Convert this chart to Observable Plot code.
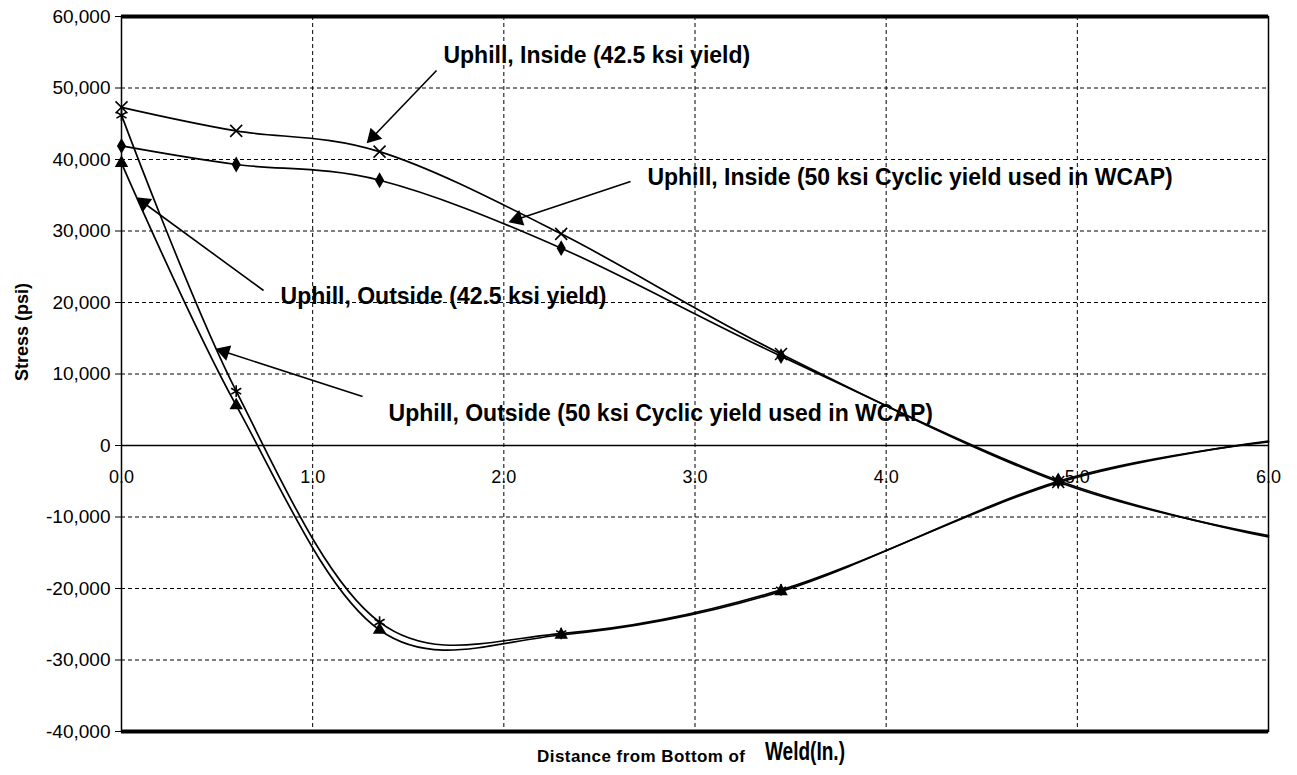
<!DOCTYPE html>
<html><head><meta charset="utf-8">
<script src="https://cdn.jsdelivr.net/npm/d3@7"></script>
<script src="https://cdn.jsdelivr.net/npm/@observablehq/plot@0.6"></script>
<style>body{margin:0;background:#fff} svg{display:block}</style>
</head><body><div id="chart"></div>
<script>
// ---- data ----
const xValues = [0, 0.6, 1.35, 2.3, 3.45, 4.9, 6.0];
const insideYield425  = [47300, 44000, 41100, 29600, 12800, -5100, -12600];
const insideCyclic50  = [41900, 39300, 37100, 27600, 12500, -4900, -12800];
const outsideYield425 = [39500, 5600, -25800, -26500, -20400, -5000, 500];
const outsideCyclic50 = [46200, 7600, -24700, -26300, -20200, -5200, 600];

const seriesNames = [
  "Uphill, Inside (42.5 ksi yield)",
  "Uphill, Inside (50 ksi Cyclic yield used in WCAP)",
  "Uphill, Outside (42.5 ksi yield)",
  "Uphill, Outside (50 ksi Cyclic yield used in WCAP)"
];
const seriesValues = [insideYield425, insideCyclic50, outsideYield425, outsideCyclic50];

const xDomain = [0, 6];
const yDomain = [-40000, 60000];
const xTicks = [0, 1, 2, 3, 4, 5, 6];
const yTicks = [60000, 50000, 40000, 30000, 20000, 10000, 0, -10000, -20000, -30000, -40000];

// annotation labels (data units)
const labelTextX = [1.684, 2.751, 0.832, 1.397];
const labelTextY = [54545, 37483, 20840, 4476];
const arrowFromX = [1.648, 2.663, 0.743, 1.261];
const arrowFromY = [52447, 36923, 21680, 6853];
const arrowToX   = [1.302, 2.051, 0.099, 0.518];
const arrowToY   = [42797, 31468, 34266, 13287];

const xTitle = "Distance from Bottom of";
const xTitleUnit = "Weld(In.)";
const yTitle = "Stress (psi)";

// ---- layout ----
const W = 1297, H = 775;
const mL = 121, mR = 29, mT = 16, mB = 44;
const kx = (W - mL - mR) / (xDomain[1] - xDomain[0]);
const ky = (H - mT - mB) / (yDomain[1] - yDomain[0]);

const rows = [];
seriesNames.forEach((name, i) => {
  xValues.forEach((x, j) => rows.push({series: name, idx: i, x, y: seriesValues[i][j]}));
});
const markerRows = rows.filter(d => d.x < xDomain[1]);

const annotations = seriesNames.map((name, i) => {
  const dxp = (arrowToX[i] - arrowFromX[i]) * kx;
  const dyp = -(arrowToY[i] - arrowFromY[i]) * ky;
  const len = Math.hypot(dxp, dyp);
  const back = 4;
  return {
    text: name,
    tx: labelTextX[i], ty: labelTextY[i],
    x1: arrowFromX[i], y1: arrowFromY[i],
    x2: arrowToX[i], y2: arrowToY[i],
    hx: arrowToX[i] - (dxp / len) * back / kx,
    hy: arrowToY[i] + (dyp / len) * back / ky,
    angle: Math.atan2(dxp, -dyp) * 180 / Math.PI
  };
});

const font = "Arial, 'Liberation Sans', sans-serif";
const grid = {stroke: "#000", strokeOpacity: 1, strokeWidth: 1, strokeDasharray: "4,3"};

const chart = Plot.plot({
  width: W, height: H,
  marginLeft: mL, marginRight: mR, marginTop: mT, marginBottom: mB,
  x: {domain: xDomain, axis: null},
  y: {domain: yDomain, axis: null},
  style: {fontFamily: font, background: "#fff", color: "#000"},
  marks: [
    Plot.gridY(yTicks.filter(v => v !== 0 && v !== yDomain[0] && v !== yDomain[1]), grid),
    Plot.gridX(xTicks.filter(v => v !== xDomain[0] && v !== xDomain[1]), grid),
    Plot.ruleY([0], {stroke: "#000", strokeWidth: 1.5}),
    Plot.frame({stroke: "#000", strokeWidth: 1.5}),
    Plot.ruleY([yDomain[1]], {stroke: "#000", strokeWidth: 4}),
    Plot.ruleY([yDomain[0]], {stroke: "#000", strokeWidth: 4}),
    Plot.axisY(yTicks, {
      tickSize: 6, tickPadding: 5, fontSize: 19, label: null,
      tickFormat: d => d.toLocaleString("en-US")
    }),
    Plot.text(xTicks, {
      x: d => d, y: xTicks.map(() => 0), text: d => d.toFixed(1),
      dy: 32, fontSize: 18, fill: "#000"
    }),
    Plot.line(rows, {
      x: "x", y: "y", z: "series", curve: "cardinal", tension: 0,
      stroke: "#000", strokeWidth: 1.7
    }),
    Plot.dot(markerRows.filter(d => d.idx === 0), {x: "x", y: "y", symbol: "times", r: 5.5, stroke: "#000", strokeWidth: 1.6}),
    Plot.dot(markerRows.filter(d => d.idx === 1), {x: "x", y: "y", symbol: "diamond", r: 4.8, fill: "#000"}),
    Plot.dot(markerRows.filter(d => d.idx === 2), {x: "x", y: "y", symbol: "triangle", r: 5, fill: "#000"}),
    Plot.dot(markerRows.filter(d => d.idx === 3), {x: "x", y: "y", symbol: "asterisk", r: 5.5, stroke: "#000", strokeWidth: 1.6}),
    Plot.link(annotations, {x1: "x1", y1: "y1", x2: "x2", y2: "y2", stroke: "#000", strokeWidth: 1.6}),
    Plot.dot(annotations, {x: "hx", y: "hy", symbol: "triangle", r: 6, fill: "#000", rotate: "angle"}),
    Plot.text(annotations, {
      x: "tx", y: "ty", text: "text", textAnchor: "start",
      fontSize: 23, fontWeight: "bold", fill: "#000"
    }),
    Plot.text([yTitle], {
      frameAnchor: "left", text: d => d, rotate: -90, dx: -99, dy: 7,
      fontSize: 18, fontWeight: "bold", fill: "#000"
    }),
    Plot.text([xTitle], {
      frameAnchor: "bottom", text: d => d, textAnchor: "end", dx: 50, dy: 30,
      fontSize: 17, fontWeight: "bold", fill: "#000", className: "xtitle-main"
    }),
    Plot.text([xTitleUnit], {
      frameAnchor: "bottom", text: d => d, textAnchor: "start", dx: 70, dy: 28,
      fontSize: 25, fontWeight: "bold", fill: "#000", className: "xtitle-unit"
    })
  ]
});
document.getElementById("chart").appendChild(chart);
// condense the axis title text to match the original's narrow lettering
chart.querySelectorAll(".xtitle-main text").forEach(t => {
  t.setAttribute("textLength", 208);
  t.setAttribute("lengthAdjust", "spacing");
});
chart.querySelectorAll(".xtitle-unit text").forEach(t => {
  t.setAttribute("textLength", 80);
  t.setAttribute("lengthAdjust", "spacingAndGlyphs");
});
</script>
</body></html>
